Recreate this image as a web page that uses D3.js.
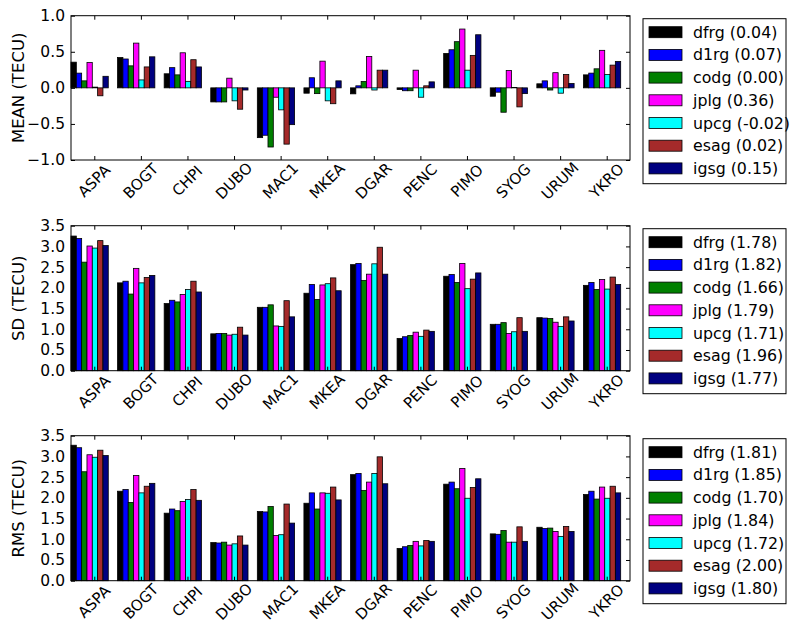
<!DOCTYPE html>
<html><head><meta charset="utf-8">
<script src="https://cdn.jsdelivr.net/npm/d3@7"></script>
<style>body{margin:0;background:#fff}svg{display:block}text{font-family:"DejaVu Sans",sans-serif}</style>
</head><body><svg id="c" width="790" height="624"></svg>
<script>
const stations = ["ASPA","BOGT","CHPI","DUBO","MAC1","MKEA","DGAR","PENC","PIMO","SYOG","URUM","YKRO"];
const seriesNames = ["dfrg","d1rg","codg","jplg","upcg","esag","igsg"];
const seriesColors = ["#000000","#0000ff","#008000","#ff00ff","#00ffff","#a52a2a","#000080"];

const meanVals = [
  [0.356, 0.42, 0.195, -0.195, -0.69, -0.074, -0.083, -0.023, 0.477, -0.116, 0.056, 0.18],
  [0.204, 0.40, 0.28, -0.195, -0.657, 0.14, 0.028, -0.04, 0.528, -0.06, 0.097, 0.204],
  [0.097, 0.305, 0.18, -0.195, -0.82, -0.08, 0.088, -0.04, 0.64, -0.338, -0.03, 0.264],
  [0.35, 0.62, 0.486, 0.134, -0.13, 0.37, 0.435, 0.245, 0.815, 0.24, 0.21, 0.52],
  [0.01, 0.11, 0.09, -0.18, -0.305, -0.18, -0.03, -0.13, 0.245, 0.005, -0.074, 0.185],
  [-0.11, 0.29, 0.39, -0.296, -0.78, -0.22, 0.245, 0.028, 0.45, -0.264, 0.185, 0.315],
  [0.16, 0.43, 0.29, -0.03, -0.51, 0.097, 0.245, 0.083, 0.736, -0.08, 0.06, 0.366]
];
const sdVals = [
  [3.25, 2.12, 1.62, 0.89, 1.53, 1.87, 2.56, 0.78, 2.28, 1.12, 1.28, 2.06],
  [3.19, 2.16, 1.70, 0.90, 1.53, 2.08, 2.59, 0.82, 2.32, 1.12, 1.27, 2.13],
  [2.62, 1.85, 1.66, 0.90, 1.59, 1.72, 2.18, 0.85, 2.13, 1.16, 1.26, 1.96],
  [3.01, 2.47, 1.84, 0.86, 1.08, 2.07, 2.33, 0.93, 2.59, 0.90, 1.17, 2.20],
  [2.96, 2.12, 1.96, 0.88, 1.07, 2.10, 2.58, 0.83, 1.98, 0.94, 1.07, 1.97],
  [3.14, 2.25, 2.16, 1.05, 1.69, 2.24, 2.98, 0.98, 2.21, 1.28, 1.30, 2.26],
  [3.02, 2.30, 1.90, 0.86, 1.30, 1.93, 2.33, 0.95, 2.36, 0.95, 1.20, 2.08]
];
const rmsVals = [
  [3.27, 2.16, 1.63, 0.92, 1.67, 1.87, 2.56, 0.78, 2.33, 1.13, 1.29, 2.08],
  [3.21, 2.20, 1.73, 0.91, 1.66, 2.12, 2.59, 0.82, 2.38, 1.12, 1.26, 2.16],
  [2.63, 1.89, 1.69, 0.93, 1.79, 1.73, 2.18, 0.85, 2.22, 1.21, 1.27, 1.97],
  [3.04, 2.54, 1.91, 0.86, 1.09, 2.12, 2.38, 0.95, 2.71, 0.93, 1.19, 2.26],
  [2.98, 2.12, 1.96, 0.89, 1.11, 2.11, 2.59, 0.84, 1.99, 0.93, 1.07, 1.99],
  [3.15, 2.28, 2.20, 1.08, 1.85, 2.26, 2.99, 0.97, 2.25, 1.30, 1.31, 2.28],
  [3.02, 2.35, 1.94, 0.86, 1.39, 1.95, 2.34, 0.95, 2.46, 0.95, 1.19, 2.12]
];
const meanLegend = ["0.04","0.07","0.00","0.36","-0.02","0.02","0.15"];
const sdLegend = ["1.78","1.82","1.66","1.79","1.71","1.96","1.77"];
const rmsLegend = ["1.81","1.85","1.70","1.84","1.72","2.00","1.80"];
const meanTicks = [-1.0,-0.5,0.0,0.5,1.0];
const posTicks = [0.0,0.5,1.0,1.5,2.0,2.5,3.0,3.5];

const panels = [
  {vals: meanVals, legend: meanLegend, ticks: meanTicks, domain:[-1,1], label:"MEAN (TECU)", top:15.7, bottom:160},
  {vals: sdVals, legend: sdLegend, ticks: posTicks, domain:[0,3.5], label:"SD (TECU)", top:225.7, bottom:370.7},
  {vals: rmsVals, legend: rmsLegend, ticks: posTicks, domain:[0,3.5], label:"RMS (TECU)", top:435.7, bottom:580.7}
];

const svg = d3.select("#c");
const left = 71, right = 630;
const x = d3.scaleLinear().domain([0, stations.length]).range([left, right]);
const bw = 0.8 / seriesNames.length;
const fmt = v => (v < 0 ? "\u2212" : "") + Math.abs(v).toFixed(1);

panels.forEach(p => {
  const y = d3.scaleLinear().domain(p.domain).range([p.bottom, p.top]);
  const g = svg.append("g");
  p.vals.forEach((arr, si) => {
    g.selectAll(null).data(arr).enter().append("rect")
      .attr("x", (d, i) => x(i + si * bw))
      .attr("width", x(bw) - x(0))
      .attr("y", d => y(Math.max(0, d)))
      .attr("height", d => Math.abs(y(d) - y(0)))
      .attr("fill", seriesColors[si])
      .attr("stroke", "#000").attr("stroke-width", 0.8);
  });
  const yl = d3.axisLeft(y).tickValues(p.ticks).tickFormat(fmt).tickSizeInner(-4).tickSizeOuter(0).tickPadding(6);
  const ya = g.append("g").attr("transform", `translate(${left},0)`).call(yl);
  ya.select(".domain").remove();
  ya.selectAll("text").attr("font-size", 15.5).attr("font-family", "DejaVu Sans").attr("fill", "#000");
  const yr = d3.axisRight(y).tickValues(p.ticks).tickFormat("").tickSizeInner(-4).tickSizeOuter(0);
  g.append("g").attr("transform", `translate(${right},0)`).call(yr).select(".domain").remove();
  const xt = stations.map((s, i) => i + 0.5);
  const xb = d3.axisBottom(x).tickValues(xt).tickFormat("").tickSizeInner(-4).tickSizeOuter(0);
  g.append("g").attr("transform", `translate(0,${p.bottom})`).call(xb).select(".domain").remove();
  const xtop = d3.axisTop(x).tickValues(xt).tickFormat("").tickSizeInner(-4).tickSizeOuter(0);
  g.append("g").attr("transform", `translate(0,${p.top})`).call(xtop).select(".domain").remove();
  g.selectAll(null).data(stations).enter().append("text")
    .attr("transform", (d, i) => `translate(${x(i + 0.5)},${p.bottom + 21}) rotate(-45)`)
    .attr("text-anchor", "middle").attr("dominant-baseline", "central")
    .attr("font-size", 15).text(d => d);
  g.append("rect").attr("x", left).attr("y", p.top).attr("width", right - left).attr("height", p.bottom - p.top)
    .attr("fill", "none").attr("stroke", "#000").attr("stroke-width", 1);
  g.append("text").attr("transform", `translate(18,${(p.top + p.bottom) / 2}) rotate(-90)`)
    .attr("text-anchor", "middle").attr("dominant-baseline", "central").attr("font-size", 16.5).text(p.label);
  const lg = svg.append("g");
  lg.append("rect").attr("x", 643).attr("y", p.top + 3).attr("width", 143).attr("height", 165)
    .attr("fill", "#fff").attr("stroke", "#000").attr("stroke-width", 1);
  seriesNames.forEach((n, si) => {
    const cy = p.top + 16.5 + si * 22.7;
    lg.append("rect").attr("x", 649).attr("y", cy - 5.5).attr("width", 33).attr("height", 11)
      .attr("fill", seriesColors[si]).attr("stroke", "#000").attr("stroke-width", 0.8);
    lg.append("text").attr("x", 693).attr("y", cy).attr("dominant-baseline", "central")
      .attr("font-size", 15.8).text(`${n} (${p.legend[si]})`);
  });
});
</script></body></html>
